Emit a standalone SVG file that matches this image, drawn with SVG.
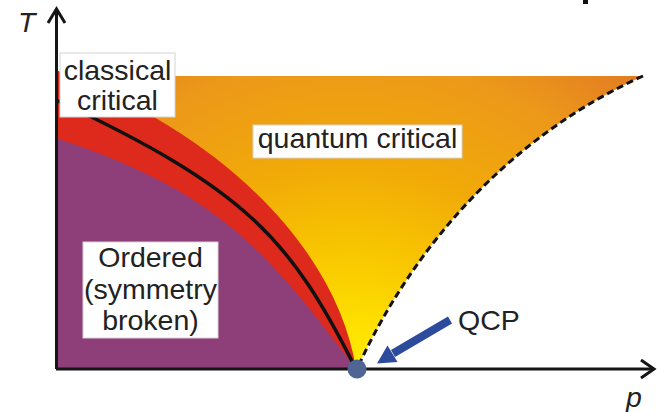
<svg xmlns="http://www.w3.org/2000/svg" width="657" height="412" viewBox="0 0 657 412">
  <defs>
    <radialGradient id="qc" gradientUnits="userSpaceOnUse" cx="350" cy="400" r="430">
      <stop offset="0" stop-color="#FFF200"/>
      <stop offset="0.15" stop-color="#FFE400"/>
      <stop offset="0.35" stop-color="#F8C600"/>
      <stop offset="0.55" stop-color="#F1AA08"/>
      <stop offset="0.8" stop-color="#EC981A"/>
      <stop offset="1" stop-color="#E37C22"/>
    </radialGradient>
    <marker id="blueHead" markerWidth="4" markerHeight="4" refX="0" refY="2" orient="auto" markerUnits="strokeWidth">
      <path d="M0,0 L2.6,2 L0,4 Z" fill="#2D4B9C"/>
    </marker>
  </defs>
  <style>
    .lbl { font-family: "Liberation Sans", Arial, sans-serif; font-size: 28.5px; fill: #222; }
    .ax { font-family: "Liberation Sans", Arial, sans-serif; font-size: 28.5px; font-style: italic; fill: #222; }
    .box { fill: #ffffff; stroke: #d4d4d4; stroke-width: 1; }
    .axis { fill: none; stroke: #151515; stroke-width: 3; }
  </style>

  <g id="regions">
    <path id="quantum-critical-region" d="M56,76 H643 C480,150 395,285 357,369 L56,369 Z" fill="url(#qc)"/>
    <path id="classical-critical-region" d="M56,70 C236,140 338.5,258 356,369 L56,369 Z" fill="#DD2A1C"/>
    <path id="ordered-region" d="M56,138 C216,191 265,248 356,369 L56,369 Z" fill="#8E3F79"/>
  </g>

  <g id="connectors">
    <path id="critical-line" d="M56,100 C246,189 290,238 356,369" fill="none" stroke="#111" stroke-width="3.5"/>
    <path id="crossover-line" d="M643,76 C480,150 395,285 357,369" fill="none" stroke="#111" stroke-width="3" stroke-dasharray="7 4"/>
    <path id="T-axis" class="axis" d="M56.5,369 V9"/>
    <path class="axis" d="M48,23 L56.5,9 L65,23"/>
    <path id="p-axis" class="axis" d="M56,369 H654"/>
    <path class="axis" d="M641,360 L654,369 L641,378"/>
    <line id="qcp-arrow" x1="450" y1="320" x2="393" y2="353.5" stroke="#2D4B9C" stroke-width="8"/>
    <polygon points="377,363.5 387.5,345.5 397.5,362" fill="#2D4B9C"/>
  </g>

  <g id="qcp-point">
    <circle cx="357" cy="369" r="9.5" fill="#4F6593"/>
  </g>

  <g id="label-classical">
    <rect class="box" x="60" y="53" width="115" height="64"/>
    <text class="lbl" x="117.5" y="80" text-anchor="middle">classical</text>
    <text class="lbl" x="117.5" y="110" text-anchor="middle">critical</text>
  </g>

  <g id="label-quantum">
    <rect class="box" x="253" y="125" width="209" height="33"/>
    <text class="lbl" x="357.5" y="148" text-anchor="middle">quantum critical</text>
  </g>

  <g id="label-ordered">
    <rect class="box" x="83" y="242" width="135" height="96"/>
    <text class="lbl" x="150.5" y="267" text-anchor="middle">Ordered</text>
    <text class="lbl" x="150.5" y="299" text-anchor="middle">(symmetry</text>
    <text class="lbl" x="150.5" y="330" text-anchor="middle">broken)</text>
  </g>

  <g id="label-qcp">
    <text class="lbl" x="458" y="330">QCP</text>
  </g>

  <g id="axis-labels">
    <text class="ax" x="18" y="32">T</text>
    <text class="ax" x="626" y="407">p</text>
  </g>

  <rect x="583" y="0" width="5" height="4" fill="#111"/>
</svg>
